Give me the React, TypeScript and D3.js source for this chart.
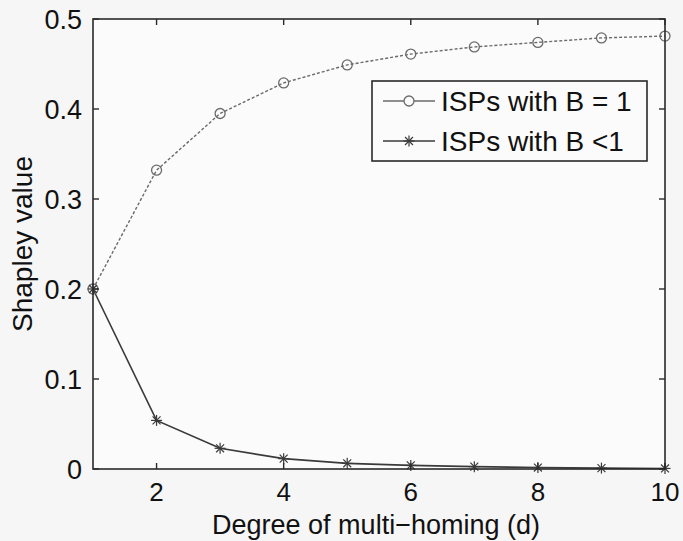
import React from "react";
import * as d3 from "d3";

const degrees = [1, 2, 3, 4, 5, 6, 7, 8, 9, 10];
const ispB1 = [0.2, 0.332, 0.395, 0.429, 0.449, 0.461, 0.469, 0.474, 0.479, 0.481];
const ispBlt1 = [0.2, 0.054, 0.023, 0.0115, 0.0063, 0.004, 0.0026, 0.0016, 0.001, 0.0006];
const xTicks = [2, 4, 6, 8, 10];
const yTicks = [0, 0.1, 0.2, 0.3, 0.4, 0.5];
const yTickLabels = ["0", "0.1", "0.2", "0.3", "0.4", "0.5"];
const seriesNames = ["ISPs with B = 1", "ISPs with B <1"];

const W = 683;
const H = 541;
const M = { left: 93, right: 665, top: 19, bottom: 469 };
const FONT = "'Liberation Sans', Arial, Helvetica, sans-serif";

function Star({ x, y, r, color }: { x: number; y: number; r: number; color: string }) {
  const d = r * 0.72;
  return (
    <g stroke={color} strokeWidth={1.2}>
      <line x1={x - r} y1={y} x2={x + r} y2={y} />
      <line x1={x} y1={y - r} x2={x} y2={y + r} />
      <line x1={x - d} y1={y - d} x2={x + d} y2={y + d} />
      <line x1={x - d} y1={y + d} x2={x + d} y2={y - d} />
    </g>
  );
}

export default function App() {
  const x = d3.scaleLinear().domain([1, 10]).range([M.left, M.right]);
  const y = d3.scaleLinear().domain([0, 0.5]).range([M.bottom, M.top]);
  const line = d3
    .line<number>()
    .x((_, i) => x(degrees[i]))
    .y((v) => y(v));
  const axisColor = "#2a2a2a";
  const c1 = "#6a6a6a";
  const c2 = "#3a3a3a";
  const tick = 6;
  const legX = 372;
  const legY = 81;
  const legW = 275;
  const legH = 80;

  return (
    <svg
      width={W}
      height={H}
      style={{ position: "absolute", left: 0, top: 0, background: "#f6f6f6" }}
      fontFamily={FONT}
    >
      <rect x={0} y={0} width={W} height={H} fill="#f6f6f6" />
      <rect x={M.left} y={M.top} width={M.right - M.left} height={M.bottom - M.top} fill="#fbfbfb" />

      {/* series */}
      <path d={line(ispB1) || ""} fill="none" stroke={c1} strokeWidth={1.4} strokeDasharray="3,2" />
      <path d={line(ispBlt1) || ""} fill="none" stroke={c2} strokeWidth={1.6} />
      {ispB1.map((v, i) => (
        <circle key={"c" + i} cx={x(degrees[i])} cy={y(v)} r={5} fill="none" stroke={c1} strokeWidth={1.3} />
      ))}
      {ispBlt1.map((v, i) => (
        <Star key={"s" + i} x={x(degrees[i])} y={y(v)} r={5.5} color={c2} />
      ))}

      {/* axes box */}
      <rect
        x={M.left}
        y={M.top}
        width={M.right - M.left}
        height={M.bottom - M.top}
        fill="none"
        stroke={axisColor}
        strokeWidth={1.6}
      />
      {xTicks.map((t) => (
        <g key={"xt" + t}>
          <line x1={x(t)} x2={x(t)} y1={M.bottom} y2={M.bottom - tick} stroke={axisColor} strokeWidth={1.4} />
          <line x1={x(t)} x2={x(t)} y1={M.top} y2={M.top + tick} stroke={axisColor} strokeWidth={1.4} />
          <text x={x(t)} y={501} fontSize={26} textAnchor="middle" fill="#111">
            {t}
          </text>
        </g>
      ))}
      {yTicks.map((t, i) => (
        <g key={"yt" + i}>
          <line x1={M.left} x2={M.left + tick} y1={y(t)} y2={y(t)} stroke={axisColor} strokeWidth={1.4} />
          <line x1={M.right} x2={M.right - tick} y1={y(t)} y2={y(t)} stroke={axisColor} strokeWidth={1.4} />
          <text x={82} y={y(t) + 10} fontSize={27} textAnchor="end" fill="#111">
            {yTickLabels[i]}
          </text>
        </g>
      ))}

      {/* axis labels */}
      <text x={(M.left + M.right) / 2 - 3} y={534} fontSize={27} textAnchor="middle" fill="#111">
        Degree of multi−homing (d)
      </text>
      <text
        transform={`translate(32, ${(M.top + M.bottom) / 2}) rotate(-90)`}
        fontSize={28}
        textAnchor="middle"
        fill="#111"
      >
        Shapley value
      </text>

      {/* legend */}
      <rect x={legX} y={legY} width={legW} height={legH} fill="#fbfbfb" stroke={axisColor} strokeWidth={1.6} />
      <line x1={383} x2={435} y1={legY + 20} y2={legY + 20} stroke={c1} strokeWidth={1.3} />
      <circle cx={409} cy={legY + 20} r={5} fill="#fbfbfb" stroke={c1} strokeWidth={1.3} />
      <text x={441} y={legY + 30} fontSize={28} fill="#111">
        {seriesNames[0]}
      </text>
      <line x1={383} x2={435} y1={legY + 60} y2={legY + 60} stroke={c2} strokeWidth={1.5} />
      <Star x={409} y={legY + 60} r={5.5} color={c2} />
      <text x={441} y={legY + 70} fontSize={28} fill="#111">
        {seriesNames[1]}
      </text>
    </svg>
  );
}
